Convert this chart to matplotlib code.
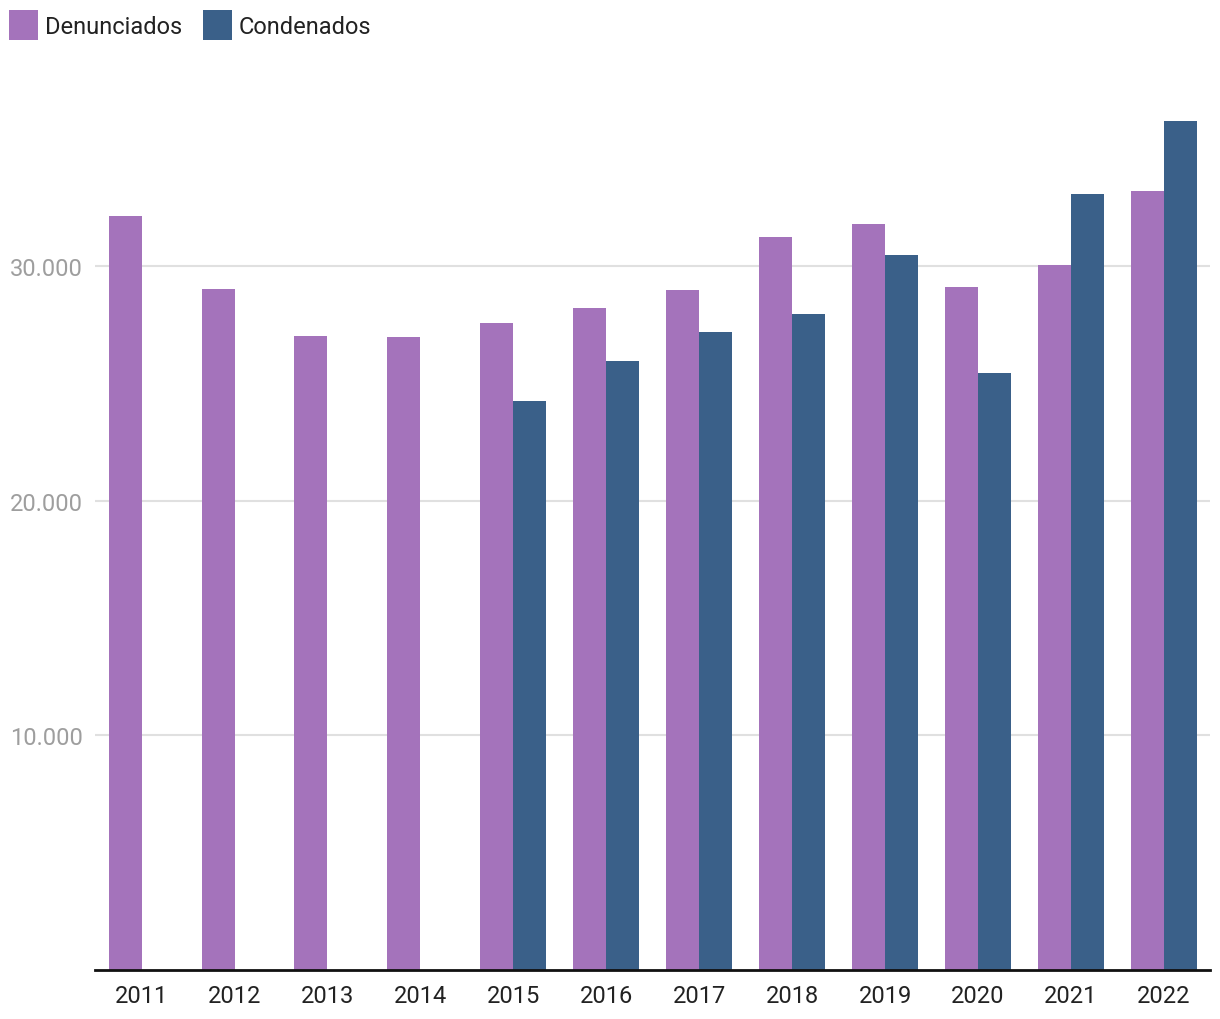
import numpy as np
import matplotlib.pyplot as plt
from matplotlib.ticker import FuncFormatter

years = ['2011', '2012', '2013', '2014', '2015', '2016', '2017', '2018',
         '2019', '2020', '2021', '2022']
denunciados = [32130, 29020, 27010, 26970, 27570, 28210, 28970, 31230,
               31790, 29100, 30040, 33190]
condenados = [0, 0, 0, 0, 24240, 25950, 27180, 27950, 30460, 25440,
              33060, 36170]
series_names = ['Denunciados', 'Condenados']
colors = ['#a473bb', '#3a6089']

plt.rcParams['font.family'] = ['Roboto', 'DejaVu Sans']

fig = plt.figure(figsize=(12.2, 10.2), dpi=100)
ax = fig.add_axes([0.078, 0.048, 0.914, 0.863])

x = np.arange(len(years))
w = 0.355
cond = [v if v > 0 else np.nan for v in condenados]
ax.bar(x - w / 2, denunciados, w, color=colors[0], label=series_names[0], zorder=2)
ax.bar(x + w / 2, cond, w, color=colors[1], label=series_names[1], zorder=2)

ax.set_xlim(-0.5, len(years) - 0.5)
ax.set_ylim(0, 37500)
ax.set_yticks([10000, 20000, 30000])
ax.yaxis.set_major_formatter(FuncFormatter(lambda v, p: f'{int(v):,}'.replace(',', '.')))
ax.set_xticks(x)
ax.set_xticklabels(years)

ax.grid(axis='y', color='#e0e0e0', linewidth=1.5, zorder=0)
for s in ['top', 'right', 'left']:
    ax.spines[s].set_visible(False)
ax.spines['bottom'].set_color('#111111')
ax.spines['bottom'].set_linewidth(2)
ax.spines['bottom'].set_zorder(3)
ax.tick_params(axis='y', length=0, pad=9, labelsize=17, labelcolor='#9e9e9e')
ax.tick_params(axis='x', length=0, pad=10, labelsize=17, labelcolor='#222222')

fig.legend(loc='upper left', bbox_to_anchor=(0.0, 0.998), ncol=2, frameon=False,
           fontsize=17, handlelength=1.2, handleheight=1.55, handletextpad=0.3,
           columnspacing=0.9, borderaxespad=0, labelcolor='#222222')

fig.savefig('out.png', dpi=100)
